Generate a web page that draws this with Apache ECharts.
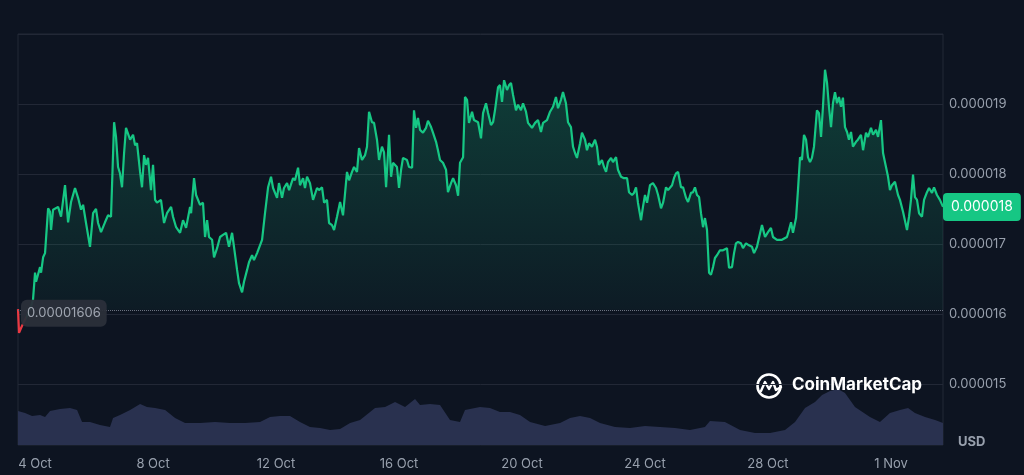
<!DOCTYPE html>
<html><head><meta charset="utf-8">
<script src="https://cdn.jsdelivr.net/npm/echarts@6/dist/echarts.min.js"></script>
<style>html,body{margin:0;padding:0;background:#0d1421;}#c{width:1024px;height:475px;}</style>
</head><body><div id="c"></div>
<script>
// time in hours since 3 Oct 00:00
const hours = [
14.6,15.4,17.0,19.3,22.4,24.8,26.3,27.9,28.7,31.8,32.6,34.2,35.7,38.1,39.6,40.4,42.0,45.9,48.2,51.3,53.7,56.0,59.1,61.5,63.0,63.8,65.4,67.7,70.8,73.2,75.5,77.1,79.4,82.5,84.9,87.2,
89.6,91.1,92.7,94.2,95.8,97.4,98.9,102.1,104.4,106.0,107.5,109.9,111.4,113.0,114.5,116.1,118.4,120.0,121.6,123.1,126.2,128.6,130.9,134.1,135.6,138.0,141.1,143.4,145.8,148.9,149.7,152.0,153.6,156.7,159.0,
160.6,162.2,163.7,166.1,167.6,170.0,172.3,174.6,177.0,179.3,181.7,183.2,185.6,187.1,189.5,191.0,193.4,194.9,197.3,198.8,201.2,202.7,205.1,207.4,209.8,212.1,213.7,216.8,218.3,220.7,222.2,224.6,226.2,229.3,230.8,233.2,234.7,237.1,238.6,240.2,242.5,244.9,248.0,249.6,251.9,253.5,255.8,257.4,259.7,261.3,263.6,266.0,268.3,269.9,271.4,273.0,275.3,276.9,279.2,280.8,283.1,285.5,287.0,288.6,290.9,292.5,294.8,296.4,298.7,300.3,301.9,
304.2,305.8,307.3,310.4,312.0,313.6,315.1,318.2,319.8,322.2,323.7,325.3,326.8,328.4,330.7,333.1,334.6,337.0,338.5,340.9,342.4,344.0,346.3,348.7,350.2,352.6,354.2,356.5,358.1,359.6,362.0,363.5,365.1,366.6,369.0,370.5,373.7,376.0,377.6,379.9,381.5,383.8,385.4,386.9,389.3,390.8,392.4,394.0,396.3,397.9,399.4,401.0,403.3,404.9,407.2,408.8,411.1,412.7,415.8,418.2,420.5,422.8,424.4,427.5,429.9,432.2,434.5,436.1,438.4,440.0,442.3,443.9,
446.2,447.8,449.4,450.9,453.3,454.8,457.2,458.7,460.3,462.6,465.0,466.5,468.1,470.4,472.0,473.6,475.1,477.5,479.0,481.4,482.9,485.3,487.6,490.0,491.5,493.9,495.4,497.0,498.5,500.9,502.4,504.0,505.6,507.9,510.2,512.6,514.2,516.5,518.1,520.4,522.0,525.1,526.6,528.2,529.8,532.1,533.7,536.0,537.6,539.9,541.5,543.0,544.6,546.2,547.7,549.3,550.8,552.4,554.0,555.5,557.1,558.6,560.2,562.5,564.9,566.4,568.0,569.6,571.9,573.5,575.0,576.6,578.9,580.5,582.8,584.4,587.5,589.1,591.4,593.0,
595.3,597.7,600.0,602.3,603.9,607.0,610.9,614.8,616.4,618.0,619.5,621.9,623.4,625.0,626.5,628.1,629.7,631.2,632.8,634.3,635.9,638.2,639.8,641.4,642.9,644.5,646.1,647.6,649.2,650.7,652.3,653.9,655.4,657.0,658.5,660.1,661.7,663.2,664.8,666.3,668.7,670.2,672.6,674.2,676.5,678.1,680.4,682.0,684.3,685.9,688.2,689.8,692.1,693.7,695.2,696.8,699.1,701.5,703.0,705.4,708.5,710.1,711.6,713.2,714.7,716.3,717.9,720.2,721.8,724.1,725.7,728.0,729.6,731.9,734.2,736.6
];
// price in micro-USD (x 1e-6)
const prices = [
16.07,15.73,15.80,15.89,16.00,16.11,16.20,16.59,16.46,16.67,16.59,16.81,16.87,17.51,17.46,17.20,17.49,17.53,17.39,17.84,17.31,17.60,17.80,17.66,17.67,17.49,17.56,17.30,16.96,17.44,17.50,17.30,17.17,17.31,17.41,17.39,
18.74,18.53,18.10,18.01,17.81,18.30,18.66,18.49,18.56,18.41,18.44,18.03,17.81,18.27,18.13,18.23,17.77,18.13,17.63,17.59,17.63,17.30,17.44,17.53,17.39,17.24,17.16,17.34,17.23,17.53,17.44,17.94,17.70,17.56,17.59,
17.10,17.34,17.10,17.06,16.81,16.94,17.10,17.13,17.16,16.96,17.16,16.96,16.63,16.44,16.31,16.46,16.63,16.74,16.84,16.77,16.87,16.87,17.06,17.44,17.81,17.96,17.80,17.66,17.87,17.66,17.80,17.87,17.77,17.94,17.91,18.09,17.84,17.94,17.80,17.96,17.87,17.63,17.80,17.77,17.81,17.59,17.63,17.30,17.27,17.20,17.39,17.60,17.41,17.73,18.03,17.91,18.03,18.10,18.03,18.37,18.20,18.27,18.39,18.89,18.74,18.73,18.49,18.20,18.39,18.31,17.81,
18.56,17.96,18.16,18.10,17.80,18.06,18.23,18.20,18.10,18.09,18.91,18.66,18.80,18.63,18.59,18.66,18.76,18.67,18.59,18.46,18.34,18.20,18.16,18.06,17.74,17.87,17.94,17.84,17.69,18.16,18.24,19.10,19.06,18.73,18.89,18.77,18.74,18.51,18.87,19.01,18.87,18.70,18.74,18.91,19.24,19.27,19.03,19.34,19.20,19.27,19.30,19.13,18.91,18.99,18.91,19.01,18.89,18.73,18.66,18.73,18.77,18.60,18.73,18.77,18.89,18.96,19.10,18.94,19.06,19.17,19.01,18.74,
18.67,18.39,18.30,18.23,18.44,18.59,18.49,18.34,18.44,18.39,18.49,18.39,18.13,18.20,18.10,18.03,18.17,18.23,18.17,18.24,18.06,17.96,17.94,17.94,17.74,17.70,17.73,17.81,17.59,17.34,17.53,17.70,17.59,17.84,17.87,17.80,17.70,17.51,17.59,17.81,17.77,17.84,17.94,18.01,18.03,17.81,17.81,17.66,17.60,17.73,17.74,17.81,17.70,17.67,17.44,17.24,17.37,17.20,16.59,16.56,16.67,16.80,16.84,16.91,16.91,16.89,16.94,16.66,16.67,16.87,17.01,17.03,17.01,16.94,17.01,16.99,16.96,16.87,16.96,17.09,
17.27,17.10,17.17,17.23,17.10,17.06,17.06,17.10,17.20,17.31,17.16,17.37,17.77,18.24,18.20,18.56,18.49,18.24,18.17,18.23,18.39,18.91,18.87,18.53,18.96,19.49,19.30,18.96,18.67,19.01,19.17,19.01,19.10,18.96,19.09,18.67,18.60,18.49,18.60,18.39,18.46,18.49,18.56,18.34,18.59,18.53,18.66,18.56,18.63,18.53,18.77,18.30,18.10,17.96,17.77,17.84,17.89,17.70,17.63,17.46,17.20,17.39,17.63,17.99,17.67,17.63,17.44,17.39,17.63,17.74,17.80,17.73,17.81,17.70,17.63,17.53
];
const volHours = [14.6,20.1,25.6,31.8,35.7,39.6,47.4,55.2,60.7,64.6,70.8,78.6,86.4,88.8,94.2,102.1,109.9,115.3,121.6,129.4,137.2,145.0,156.7,168.4,180.1,191.8,203.5,211.3,219.1,226.9,234.7,242.5,250.4,258.2,266.0,273.8,281.6,289.4,293.3,301.1,308.9,316.7,320.6,324.5,328.4,336.2,344.0,351.8,359.6,363.5,375.2,383.0,390.8,398.6,406.4,414.3,426.0,437.7,445.5,453.3,461.1,468.9,480.6,492.3,504.0,515.7,527.4,539.1,550.8,554.7,566.4,578.2,589.9,601.6,613.3,621.1,628.9,636.7,642.2,648.4,654.6,660.1,667.9,679.6,687.4,695.2,703.0,709.3,714.7,722.6,730.4,736.6];
const volumes = [34,32,29,30,28,34,36,37,35,23,23,20,18,27,30,35,41,38,37,35,27,22,22,23,22,22,23,28,29,29,23,18,17,15,16,22,25,33,37,38,43,38,42,46,40,41,40,25,23,35,38,37,33,33,30,23,19,22,27,29,27,22,18,17,19,18,17,15,18,24,23,15,12,12,15,23,37,43,50,54,56,52,38,28,23,32,35,37,32,28,25,22];
const openPrice = 16.06;
const dateTickHours = [27.9,120,216,312,408,504,600,696];
const monthNames = ['Jan','Feb','Mar','Apr','May','Jun','Jul','Aug','Sep','Oct','Nov','Dec'];

const priceData = hours.map((h, i) => [h, prices[i]]);
const volData = volHours.map((h, i) => [h, volumes[i]]);
const fmtDate = h => { const d = new Date(2023, 9, 3, 0, 0, 0); d.setTime(d.getTime() + h * 3600000); return d.getDate() + ' ' + monthNames[d.getMonth()]; };
const fmtPrice = v => (v / 1e6).toFixed(6);
const gridColor = '#222836';
const labelColor = '#98a0ad';
const green = '#16c784';
const red = '#ea3943';
const font = 'Inter, Roboto, sans-serif';

// red while the price is still below the opening price (first points), green afterwards
const span = hours[hours.length - 1] - hours[0];
let firstUp = prices.findIndex((p, i) => i > 0 && p >= openPrice + 0.05);
const cut = (hours[firstUp - 1] - hours[0]) / span;
const lineColor = {type: 'linear', x: 0, y: 0, x2: 1, y2: 0, colorStops: [
  {offset: 0, color: red}, {offset: cut, color: red}, {offset: Math.min(1, cut + 0.001), color: green}, {offset: 1, color: green}]};

const chart = echarts.init(document.getElementById('c'), null, {renderer: 'canvas'});
chart.setOption({
  backgroundColor: '#0d1421',
  animation: false,
  textStyle: {fontFamily: font},
  grid: [
    {left: 18, right: 81, top: 34, bottom: 21, show: false},
    {left: 18, right: 81, top: 34, bottom: 30, show: true, borderColor: gridColor, borderWidth: 1, backgroundColor: 'transparent'}
  ],
  xAxis: [
    {type: 'value', gridIndex: 0, min: hours[0], max: hours[hours.length - 1], show: false},
    {type: 'value', gridIndex: 1, min: hours[0], max: hours[hours.length - 1],
     axisLine: {show: false}, axisTick: {show: false}, splitLine: {show: false},
     axisLabel: {customValues: dateTickHours, formatter: fmtDate, color: labelColor, fontSize: 13, margin: 13, fontFamily: font, hideOverlap: false}}
  ],
  yAxis: [
    {type: 'value', gridIndex: 0, position: 'right', min: 14, max: 20, interval: 1,
     axisLine: {show: false}, axisTick: {show: false},
     splitLine: {show: true, showMinLine: false, lineStyle: {color: gridColor, width: 1}},
     axisLabel: {showMinLabel: false, showMaxLabel: false, formatter: fmtPrice, color: labelColor, fontSize: 13, margin: 6, fontFamily: font}},
    {type: 'value', gridIndex: 1, min: 0, max: 411, show: false}
  ],
  series: [
    {type: 'line', name: 'Price', xAxisIndex: 0, yAxisIndex: 0, data: priceData, showSymbol: false, symbol: 'none', z: 3,
     lineStyle: {width: 2.2, color: lineColor},
     itemStyle: {color: green},
     areaStyle: {origin: openPrice, color: {type: 'linear', x: 0, y: 0, x2: 0, y2: 1,
       colorStops: [{offset: 0, color: 'rgba(22,199,132,0.34)'}, {offset: 1, color: 'rgba(22,199,132,0.03)'}]}},
     endLabel: {show: true, formatter: p => fmtPrice(p.value[1]), backgroundColor: green, color: '#ffffff',
       padding: [7, 8], borderRadius: 4, fontSize: 14, distance: 0, fontFamily: font},
     markLine: {silent: true, symbol: ['none', 'none'],
       lineStyle: {type: 'dotted', color: '#6b7280', width: 1},
       data: [{yAxis: openPrice}],
       label: {show: true, position: 'insideStartBottom', distance: [3, -10], formatter: () => (openPrice / 1e6).toFixed(8),
         backgroundColor: 'rgba(43,47,58,0.95)', color: '#a0a6b1', padding: [7, 6], borderRadius: 6, fontSize: 13, fontFamily: font}}
    },
    {type: 'line', name: 'Volume', xAxisIndex: 1, yAxisIndex: 1, data: volData, showSymbol: false, symbol: 'none', z: 1,
     lineStyle: {width: 0}, itemStyle: {color: '#29314f'}, areaStyle: {color: '#29314f', opacity: 1}}
  ],
  graphic: [
    {type: 'group', left: 755, top: 372, z: 10, children: [
      {type: 'circle', shape: {cx: 14, cy: 13, r: 11.5}, style: {fill: 'none', stroke: '#ffffff', lineWidth: 2.6}},
      {type: 'polyline', shape: {points: [[6, 18], [10, 9], [14, 16], [18, 9], [21, 17], [26, 14]]},
       style: {fill: 'none', stroke: '#ffffff', lineWidth: 2.4, lineJoin: 'round', lineCap: 'round'}}
    ]},
    {type: 'text', left: 792, top: 376, z: 10, style: {text: 'CoinMarketCap', fill: '#ffffff', font: 'bold 17px Inter, Roboto, sans-serif'}},
    {type: 'text', left: 958, top: 436, z: 10, style: {text: 'USD', fill: labelColor, font: 'bold 13px Inter, Roboto, sans-serif'}}
  ]
});
</script></body></html>
